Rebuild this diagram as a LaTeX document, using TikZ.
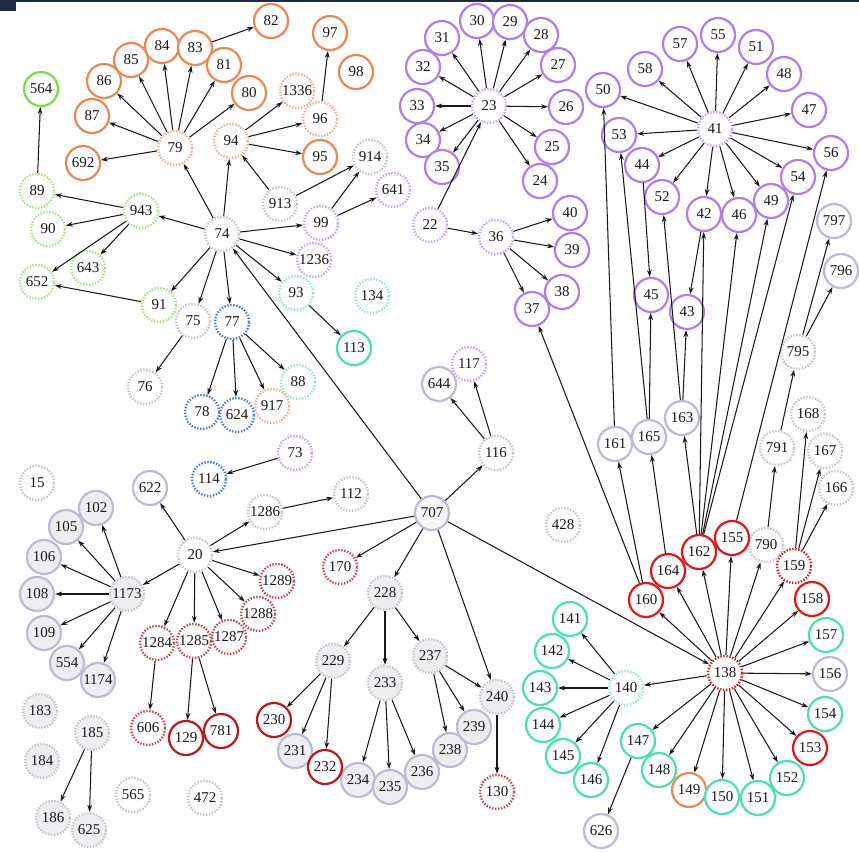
\documentclass[tikz,border=0pt]{standalone}
\usepackage{fontspec}
\setmainfont{Liberation Serif}
\usetikzlibrary{arrows.meta}
\definecolor{orS}{RGB}{240,135,80}
\definecolor{orD}{RGB}{243,175,145}
\definecolor{puS}{RGB}{175,125,240}
\definecolor{puD}{RGB}{200,160,240}
\definecolor{grS}{RGB}{120,225,60}
\definecolor{grD}{RGB}{165,230,125}
\definecolor{teS}{RGB}{70,225,180}
\definecolor{teD}{RGB}{150,230,210}
\definecolor{blD}{RGB}{70,120,225}
\definecolor{reS}{RGB}{235,20,20}
\definecolor{reK}{RGB}{195,20,25}
\definecolor{reD}{RGB}{210,65,65}
\definecolor{laS}{RGB}{188,186,212}
\definecolor{laD}{RGB}{195,195,208}
\definecolor{fillG}{RGB}{238,238,240}
\definecolor{navy}{RGB}{27,42,69}
\definecolor{ink}{RGB}{25,25,25}
\tikzset{
  nd/.style={circle,minimum size=34pt,inner sep=0pt,fill=white,text=ink,font=\fontsize{15}{16}\selectfont},
  sol/.style={nd,draw=#1,line width=2.2pt},
  dot/.style={nd,draw=#1,line width=2.3pt,dash pattern=on 1.4pt off 1.6pt},
  solf/.style={sol=#1,fill=fillG},
  dotf/.style={dot=#1,fill=fillG},
  arr/.style={draw=ink,line width=1.05pt,-{Stealth[length=7pt,width=4.8pt]}}
}
\begin{document}
\begin{tikzpicture}[x=1pt,y=-1pt]
\useasboundingbox (0,0) rectangle (859,851);
\fill[navy] (0,0) rectangle (16,11);
\fill[navy] (0,0) rectangle (859,2.5);
% orange solid
\foreach \n/\x/\y in {82/271/21,97/330/33,98/356/72,84/162/46,83/195/48,85/131/60,81/224/65,86/104/81,80/249/93,87/92/116,95/320/157,692/83/163,149/689/790}
  \node[sol=orS] (n\n) at (\x,\y) {\n};
% orange dotted
\foreach \n/\x/\y in {1336/297/91,96/320/119,79/175/148,94/231/141,917/272/406}
  \node[dot=orD] (n\n) at (\x,\y) {\n};
% purple solid
\foreach \n/\x/\y in {30/477/21,29/510/22,28/541/35,31/442/38,27/558/65,32/423/67,26/566/107,33/417/106,34/423/140,25/552/147,35/442/167,24/540/181,40/570/213,39/572/250,38/562/292,37/532/309,57/680/44,55/718/35,51/756/47,58/645/69,48/784/74,50/603/90,47/809/110,53/619/135,56/831/153,44/642/165,54/798/177,52/662/197,42/704/214,46/739/215,49/771/201,45/651/295,43/687/312}
  \node[sol=puS] (n\n) at (\x,\y) {\n};
% purple dotted
\foreach \n/\x/\y in {23/489/106,22/430/225,36/496/237,41/715/129,99/321/223,641/393/190,1236/314/260,73/295/453,117/469/364}
  \node[dot=puD] (n\n) at (\x,\y) {\n};
% lavender dotted
\foreach \n/\x/\y in {914/370/157,913/280/204,74/222/234,75/193/321,76/145/387,15/37/483,1286/265/512,112/351/494,20/195/555,116/496/453,428/563/525,795/798/352,168/808/414,791/777/448,167/825/451,166/836/488,790/766/545,565/133/795,472/205/798}
  \node[dot=laD] (n\n) at (\x,\y) {\n};
% lavender solid
\foreach \n/\x/\y in {622/150/488,644/439/384,161/615/444,165/649/437,163/682/418,797/834/221,796/841/271,156/830/674,626/601/831}
  \node[sol=laS] (n\n) at (\x,\y) {\n};
\node[sol=laS,fill={rgb,255:red,246;green,246;blue,248}] (n707) at (432,513) {707};
% lavender solid filled
\foreach \n/\x/\y in {102/96/508,105/66/527,106/44/557,108/37/594,109/44/633,554/67/663,1174/98/680,231/295/751,234/358/780,235/390/787,236/422/772,238/450/750,239/474/727}
  \node[solf=laS] (n\n) at (\x,\y) {\n};
% grey dotted filled
\foreach \n/\x/\y in {1173/127/594,228/385/593,229/333/661,233/385/683,237/430/656,240/497/697,183/40/711,184/42/761,185/92/733,186/53/818,625/89/830}
  \node[dotf=laD] (n\n) at (\x,\y) {\n};
% green
\node[sol=grS] (n564) at (41,89) {564};
\foreach \n/\x/\y in {89/37/191,90/48/229,943/141/211,643/88/268,652/37/282,91/159/305}
  \node[dot=grD] (n\n) at (\x,\y) {\n};
% teal
\foreach \n/\x/\y in {113/354/348,141/570/619,142/552/651,143/540/688,144/543/725,145/563/756,146/591/780,147/638/741,148/659/770,150/722/797,151/758/798,152/787/778,154/825/714,157/826/635}
  \node[sol=teS] (n\n) at (\x,\y) {\n};
\foreach \n/\x/\y in {93/296/293,134/372/296,88/298/382,140/626/688}
  \node[dot=teD] (n\n) at (\x,\y) {\n};
% blue dotted
\foreach \n/\x/\y in {77/232/322,78/202/412,624/237/415,114/209/479}
  \node[dot=blD] (n\n) at (\x,\y) {\n};
% red
\foreach \n/\x/\y in {155/732/538,162/699/552,164/668/571,160/646/600,158/812/599,153/810/748}
  \node[sol=reS] (n\n) at (\x,\y) {\n};
\foreach \n/\x/\y in {129/186/738,781/221/731,230/274/720,232/325/767}
  \node[sol=reK] (n\n) at (\x,\y) {\n};
\foreach \n/\x/\y in {1289/277/581,1288/258/614,1287/229/637,1285/194/641,1284/157/643,170/340/567,606/148/728,130/497/792}
  \node[dot=reD] (n\n) at (\x,\y) {\n};
\foreach \n/\x/\y in {138/725/673,159/794/566}
  \node[dot=reS] (n\n) at (\x,\y) {\n};
% edges
\foreach \a/\b in {79/692,79/87,79/86,79/85,79/84,79/83,79/81,79/80,83/82,94/1336,94/96,94/95,96/97,
  74/79,74/94,74/943,74/99,74/1236,74/93,74/91,74/75,74/77,913/94,913/914,99/914,99/641,
  943/89,943/90,943/652,943/643,89/564,91/652,75/76,77/78,77/624,77/917,77/88,93/113,
  707/74,73/114,1286/112,20/1286,20/622,20/1173,20/1289,20/1288,20/1287,20/1285,20/1284,
  707/20,707/170,707/228,707/240,707/116,707/138,116/644,116/117,
  1173/102,1173/105,1173/106,1173/108,1173/109,1173/554,1173/1174,1284/606,1285/129,1285/781,
  228/229,228/233,228/237,229/230,229/231,229/232,233/234,233/235,233/236,237/238,237/239,237/240,240/130,
  185/186,185/625,
  23/24,23/25,23/26,23/27,23/28,23/29,23/30,23/31,23/32,23/33,23/34,23/35,22/23,22/36,
  36/40,36/39,36/38,36/37,
  41/50,41/58,41/57,41/55,41/51,41/48,41/47,41/56,41/54,41/49,41/46,41/42,41/52,41/44,41/53,
  44/45,42/43,160/37,160/161,161/50,165/45,165/53,164/165,163/43,163/52,162/163,
  162/42,162/46,162/49,162/54,155/56,790/791,791/795,795/797,795/796,159/168,159/167,159/166,
  138/160,138/164,138/162,138/155,138/790,138/159,138/158,138/157,138/156,138/154,138/153,
  138/152,138/151,138/150,138/149,138/148,138/147,138/140,
  140/141,140/142,140/143,140/144,140/145,140/146,147/626}
  \draw[arr] (n\a) -- (n\b);
\end{tikzpicture}
\end{document}
